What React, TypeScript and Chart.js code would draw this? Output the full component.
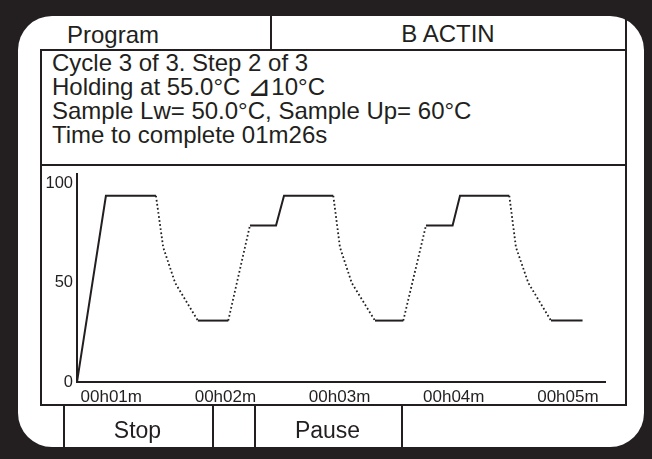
import React, { useEffect, useRef } from "react";
import { Chart, registerables } from "chart.js";

Chart.register(...registerables);

// ---- data ----
const TIME_S = [
  42, 57.2, 83.5, 87.3, 93.6, 105.5, 121.5, 132.9, 146.6, 150.8, 176.7, 180.2,
  186.4, 198.6, 213.5, 225.4, 239.4, 243.3, 269.2, 272.7, 279.2, 291.1, 307.7,
];
const TEMP_C = [
  0, 94, 94, 68, 50, 31, 31, 79, 79, 94, 94, 68, 50, 31, 31, 79, 79, 94, 94,
  68, 50, 31, 31,
];
const Y_TICKS = [0, 50, 100];
const X_TICKS = [60, 120, 180, 240, 300];
const X_TICK_LABELS = ["00h01m", "00h02m", "00h03m", "00h04m", "00h05m"];

const HEADER_LEFT = "Program";
const HEADER_RIGHT = "B ACTIN";
const INFO_LINES = [
  ["Cycle 3 of 3. Step 2 of 3"],
  ["Holding at 55.0°C ", "\u22BF", "10°C"],
  ["Sample Lw= 50.0°C, Sample Up= 60°C"],
  ["Time to complete 01m26s"],
];
const BUTTONS = ["Stop", "", "Pause", ""];

const INK = "#231f20";
const FONT = '"Liberation Sans", Arial, Helvetica, sans-serif';

function Line({ l, t, w, h }: { l: number; t: number; w: number; h: number }) {
  return (
    <div
      style={{
        position: "absolute",
        left: l,
        top: t,
        width: w,
        height: h,
        background: INK,
      }}
    />
  );
}

export default function App() {
  const canvasRef = useRef<HTMLCanvasElement | null>(null);

  useEffect(() => {
    const canvas = canvasRef.current;
    if (!canvas) return;
    const anneal = Math.min(...TEMP_C.filter((v) => v > 0));
    const dotted = (ctx: any) => {
      const y0 = ctx.p0.parsed.y;
      const y1 = ctx.p1.parsed.y;
      return y1 < y0 || (y1 > y0 && y0 === anneal);
    };
    const chart = new Chart(canvas, {
      type: "line",
      data: {
        datasets: [
          {
            data: TIME_S.map((t, i) => ({ x: t, y: TEMP_C[i] })),
            borderColor: INK,
            borderWidth: 2,
            pointRadius: 0,
            tension: 0,
            borderCapStyle: "butt",
            segment: {
              borderDash: (ctx: any) => (dotted(ctx) ? [1.7, 2.4] : undefined),
              borderWidth: (ctx: any) => (dotted(ctx) ? 1.8 : 2),
            },
          } as any,
        ],
      },
      options: {
        animation: false,
        responsive: false,
        maintainAspectRatio: false,
        layout: { padding: { top: 8, right: 20, left: 0, bottom: 0 } },
        plugins: {
          legend: { display: false },
          tooltip: { enabled: false },
        },
        scales: {
          x: {
            type: "linear",
            min: 42,
            max: 319.5,
            grid: { display: false, drawTicks: false },
            border: { display: true, color: INK, width: 2 },
            ticks: {
              color: INK,
              font: { family: FONT, size: 17 },
              padding: 5,
              maxRotation: 0,
              autoSkip: false,
              callback: (v: any) => {
                const i = X_TICKS.indexOf(Number(v));
                return i >= 0 ? X_TICK_LABELS[i] : "";
              },
            },
            afterBuildTicks: (s: any) => {
              s.ticks = X_TICKS.map((v) => ({ value: v }));
            },
            afterFit: (s: any) => {
              s.height = 24;
              s.paddingLeft = 0;
              s.paddingRight = 0;
            },
          },
          y: {
            type: "linear",
            min: 0,
            max: 105,
            grid: { display: false, drawTicks: false },
            border: { display: true, color: INK, width: 2 },
            ticks: {
              color: INK,
              font: { family: FONT, size: 16.5 },
              padding: 4,
              autoSkip: false,
            },
            afterBuildTicks: (s: any) => {
              s.ticks = Y_TICKS.map((v) => ({ value: v }));
            },
            afterFit: (s: any) => {
              s.width = 36;
              s.paddingTop = 0;
              s.paddingBottom = 0;
            },
          },
        },
      },
    });
    return () => chart.destroy();
  }, []);

  const textStyle = (style: React.CSSProperties): React.CSSProperties => ({
    position: "absolute",
    fontFamily: FONT,
    color: INK,
    whiteSpace: "pre",
    ...style,
  });

  const btnEdges = [63, 212, 254, 401, 626];

  return (
    <div
      style={{
        position: "fixed",
        left: 0,
        top: 0,
        width: 652,
        height: 459,
        background: "#231f20",
        overflow: "hidden",
      }}
    >
      <div
        style={{
          position: "absolute",
          left: 18,
          top: 16,
          width: 626,
          height: 431,
          background: "#ffffff",
          borderRadius: 34,
        }}
      />
      {/* header */}
      <div style={textStyle({ left: 67, top: 23, fontSize: 24, lineHeight: "24px" })}>
        {HEADER_LEFT}
      </div>
      <div
        style={textStyle({
          left: 270,
          width: 356,
          textAlign: "center",
          top: 22,
          fontSize: 24,
          lineHeight: "24px",
        })}
      >
        {HEADER_RIGHT}
      </div>
      <Line l={270} t={16} w={2} h={35} />
      <Line l={625} t={16} w={2} h={390} />
      {/* info box */}
      <Line l={40} t={49} w={587} h={2} />
      <Line l={40} t={49} w={2} h={357} />
      <Line l={40} t={164} w={587} h={2} />
      <Line l={40} t={404} w={587} h={2} />
      {INFO_LINES.map((parts, i) => (
        <div
          key={i}
          style={textStyle({
            left: 52,
            top: 51 + i * 24,
            fontSize: 24,
            lineHeight: "24px",
          })}
        >
          {parts.map((p, j) =>
            p === "\u22BF" ? (
              <span
                key={j}
                style={{
                  fontFamily: '"DejaVu Sans ExtraLight", "DejaVu Sans", sans-serif',
                  fontSize: 29,
                  lineHeight: "1px",
                  display: "inline-block",
                  transform: "translateY(1px)",
                }}
              >
                {p}
              </span>
            ) : (
              <span key={j}>{p}</span>
            )
          )}
        </div>
      ))}
      {/* chart */}
      <canvas
        ref={canvasRef}
        width={584}
        height={240}
        style={{
          position: "absolute",
          left: 41,
          top: 166,
          width: 584,
          height: 240,
        }}
      />
      {/* buttons */}
      {btnEdges.slice(0, 4).map((x, i) => (
        <Line key={"b" + i} l={x} t={405} w={2} h={42} />
      ))}
      {BUTTONS.map((b, i) =>
        b ? (
          <div
            key={"t" + i}
            style={textStyle({
              left: btnEdges[i],
              width: btnEdges[i + 1] - btnEdges[i],
              textAlign: "center",
              top: 419,
              fontSize: 23,
              lineHeight: "23px",
            })}
          >
            {b}
          </div>
        ) : null
      )}
    </div>
  );
}
